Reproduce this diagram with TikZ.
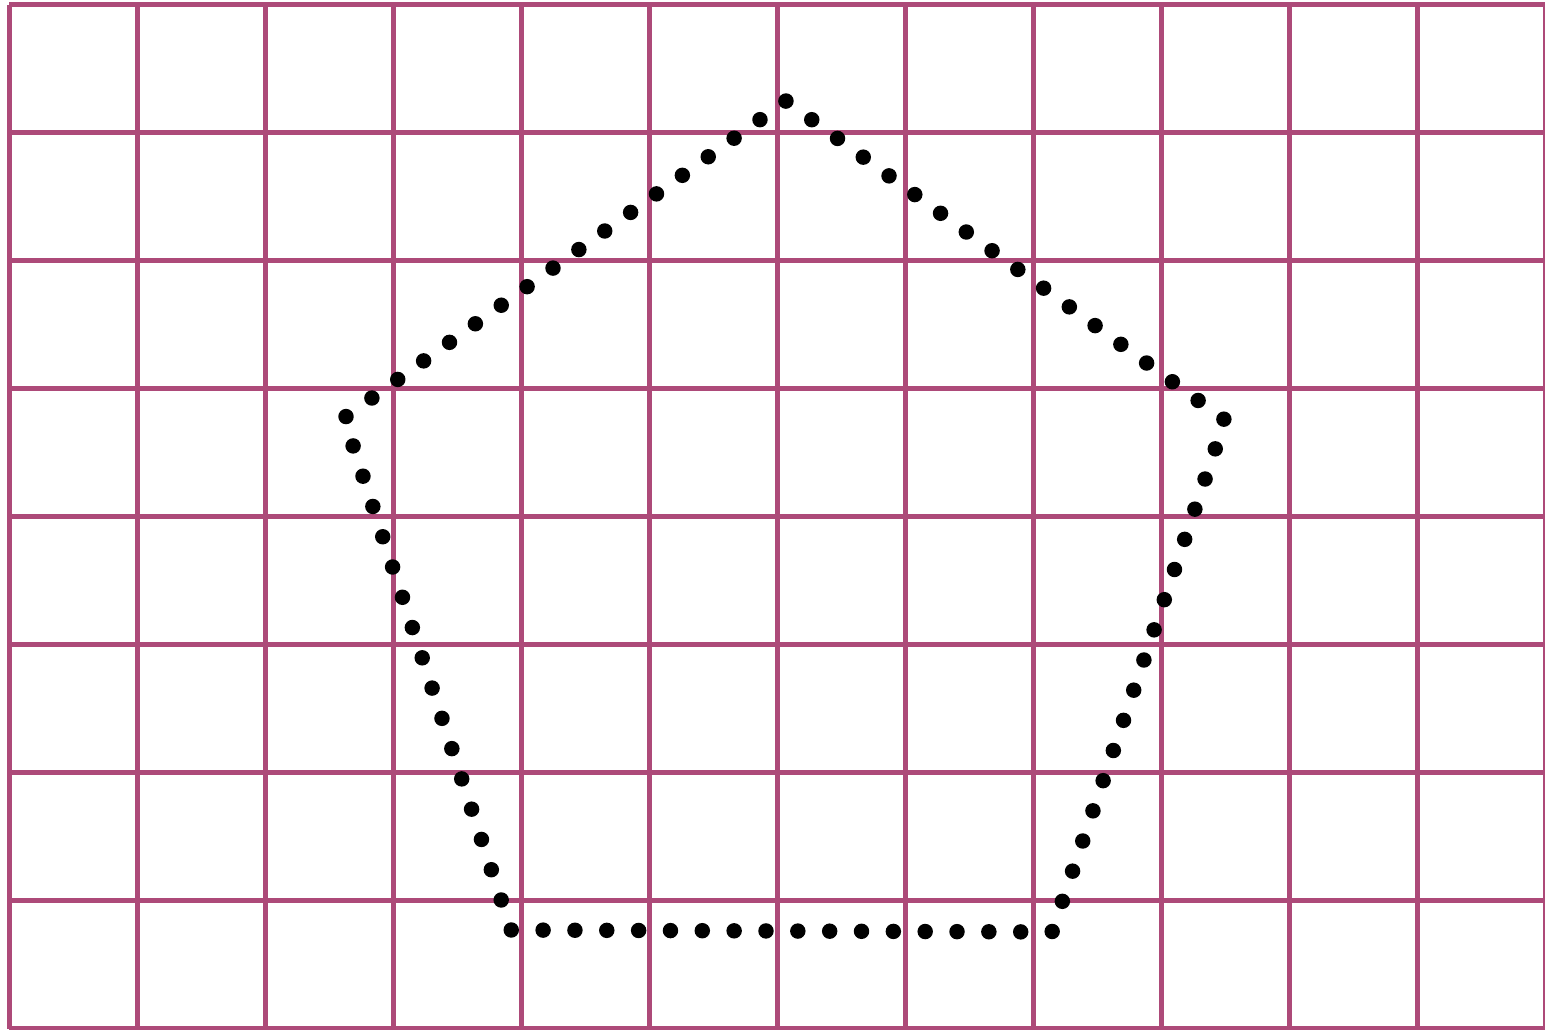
\documentclass[tikz,border=0pt]{standalone}
\usepackage{tikz}

\definecolor{gridpink}{RGB}{173,74,121}

\tikzset{every picture/.style={line width=0.75pt}}
\tikzset{gridline/.style={draw=gridpink,line width=3.75pt},
         dotline/.style={draw=black,line width=11.6pt,line cap=round,dash pattern=on 0pt off 23.88pt}}

\begin{document}
\begin{tikzpicture}[x=0.75pt,y=0.75pt,yscale=-1,xscale=1]
%set diagram left start at 0, and has height of 1030
\useasboundingbox (0,0) rectangle (1545,1030);

%Straight Lines [vertical]
\draw[gridline]    (9,4.7) -- (9,1028.7) ;
\draw[gridline]    (137,4.7) -- (137,1028.7) ;
\draw[gridline]    (265,4.7) -- (265,1028.7) ;
\draw[gridline]    (393,4.7) -- (393,1028.7) ;
\draw[gridline]    (521,4.7) -- (521,1028.7) ;
\draw[gridline]    (649,4.7) -- (649,1028.7) ;
\draw[gridline]    (777,4.7) -- (777,1028.7) ;
\draw[gridline]    (905,4.7) -- (905,1028.7) ;
\draw[gridline]    (1033,4.7) -- (1033,1028.7) ;
\draw[gridline]    (1161,4.7) -- (1161,1028.7) ;
\draw[gridline]    (1289,4.7) -- (1289,1028.7) ;
\draw[gridline]    (1417,4.7) -- (1417,1028.7) ;
\draw[gridline]    (1545,4.7) -- (1545,1028.7) ;
%Straight Lines [horizontal]
\draw[gridline]    (9,4.7) -- (1545,4.7) ;
\draw[gridline]    (9,132.7) -- (1545,132.7) ;
\draw[gridline]    (9,260.7) -- (1545,260.7) ;
\draw[gridline]    (9,388.7) -- (1545,388.7) ;
\draw[gridline]    (9,516.7) -- (1545,516.7) ;
\draw[gridline]    (9,644.7) -- (1545,644.7) ;
\draw[gridline]    (9,772.7) -- (1545,772.7) ;
\draw[gridline]    (9,900.7) -- (1545,900.7) ;
\draw[gridline]    (9,1028.7) -- (1545,1028.7) ;

%Pentagon corners
\coordinate (top) at (786,101) ;
\coordinate (right) at (1225,420) ;
\coordinate (lowright) at (1052,932) ;
\coordinate (lowleft) at (511,930) ;
\coordinate (left) at (344,418) ;

%Shape: Pentagon [dotted]
\draw[dotline]   (top) -- (right) -- (lowright) -- (lowleft) -- (left) -- cycle ;

\end{tikzpicture}
\end{document}
